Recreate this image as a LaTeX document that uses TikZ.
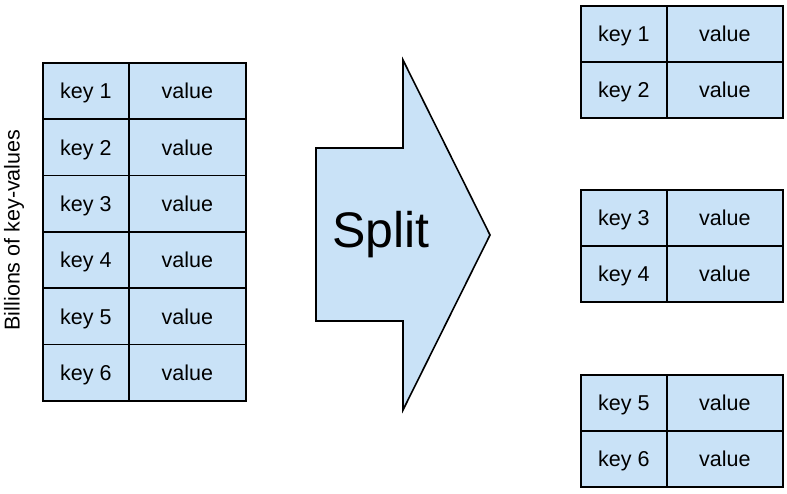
\documentclass[tikz,border=0pt]{standalone}
\usepackage{fontspec}
\setmainfont{Liberation Sans}
\definecolor{cellblue}{HTML}{C9E2F7}
\tikzset{
  cell/.style={draw=black,line width=1.6pt,fill=cellblue,anchor=north west,minimum height=56.3pt,inner sep=0pt,text height=15.5pt,text depth=0pt,font=\fontsize{21.5}{21.5}\selectfont},
  keycell/.style={cell,minimum width=86pt},
  valcell/.style={cell,minimum width=117pt},
  rkeycell/.style={cell,minimum width=86pt,minimum height=56pt},
  rvalcell/.style={cell,minimum width=116pt,minimum height=56pt},
  bigarrow/.style={draw=black,line width=1.6pt,fill=cellblue,line join=miter}
}
\begin{document}
\begin{tikzpicture}[x=1pt,y=-1pt]
\useasboundingbox (0,0) rectangle (787,494);
% left table
\foreach \i in {1,...,6} {
  \node[keycell] (lk\i) at (42,{62+(\i-1)*56.33}) {key \i};
  \node[valcell] (lv\i) at (128,{62+(\i-1)*56.33}) {value};
}
\node[rotate=90,font=\fontsize{21.5}{21.5}\selectfont] (lbl) at (14,230) {Billions of key-values};
% arrow
\draw[bigarrow] (316,148) -- (403,148) -- (403,60) -- (490,235) -- (403,410) -- (403,321) -- (316,321) -- cycle;
\node[anchor=base,font=\fontsize{50}{50}\selectfont,inner sep=0pt] (split) at (381,248) {Split};
% right tables
\foreach \i/\t in {1/5,2/61,3/189,4/245,5/374,6/430} {
  \node[rkeycell] (rk\i) at (580,\t) {key \i};
  \node[rvalcell] (rv\i) at (666,\t) {value};
}
\end{tikzpicture}
\end{document}
